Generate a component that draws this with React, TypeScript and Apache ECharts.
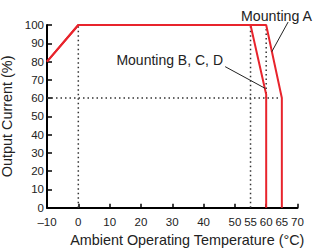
import React, { useEffect, useRef } from "react";
import * as echarts from "echarts";

const xTickLabels = [-10, 0, 10, 20, 30, 40, 50, 55, 60, 65, 70];
const yTicks = [0, 10, 20, 30, 40, 50, 60, 70, 80, 90, 100];
const mountingA: [number, number][] = [[-10, 80], [0, 100], [60, 100], [65, 60], [65, 0]];
const mountingBCD: [number, number][] = [[-10, 80], [0, 100], [55, 100], [60, 62], [60, 0]];
const guide0: [number, number][] = [[0, 0], [0, 100]];
const guide55: [number, number][] = [[55, 0], [55, 100]];
const guide60: [number, number][] = [[60, 60], [60, 100]];
const guideH60: [number, number][] = [[-10, 60], [65, 60]];
const leaderA: [number, number][] = [[67, 101.6], [61.8, 85.4]];
const leaderBCD: [number, number][] = [[46.9, 77.2], [59.7, 65.3]];

const FONT = "'Liberation Sans', Arial, sans-serif";
const RED = "#e8242c";
const INK = "#222";

export default function App() {
  const ref = useRef<HTMLDivElement>(null);
  useEffect(() => {
    if (!ref.current) return;
    const chart = echarts.init(ref.current, null, { renderer: "svg" });
    const dotted = (data: [number, number][]) => ({
      type: "line",
      data,
      symbol: "none",
      silent: true,
      lineStyle: { color: "#333", width: 1.5, type: [1.5, 3] },
    });
    const leader = (data: [number, number][]) => ({
      type: "line",
      data,
      symbol: "none",
      silent: true,
      clip: false,
      lineStyle: { color: INK, width: 1 },
    });
    chart.setOption({
      animation: false,
      grid: { left: 47, right: 21.5, top: 25, bottom: 43.3, outerBoundsMode: "none", containLabel: false },
      xAxis: [
        {
          type: "value",
          min: -10,
          max: 70,
          interval: 5,
          name: "Ambient Operating Temperature (°C)",
          nameLocation: "middle",
          nameGap: 25,
          nameTextStyle: { fontFamily: FONT, fontSize: 14.4, color: INK, padding: [0, 0, 0, 30] },
          axisLine: { onZero: false, lineStyle: { color: "#000", width: 2 } },
          axisTick: { show: false },
          splitLine: { show: false },
          axisLabel: {
            fontFamily: FONT,
            fontSize: 11.5,
            color: INK,
            margin: 8,
            hideOverlap: false,
            customValues: xTickLabels,
            formatter: (v: number) => (v < 0 ? "\u2013" + Math.abs(v) : String(v)),
          },
        },
        {
          type: "value",
          min: -10,
          max: 70,
          interval: 10,
          position: "bottom",
          axisLine: { show: false },
          axisLabel: { show: false },
          splitLine: { show: false },
          axisTick: { show: true, inside: true, length: 4, lineStyle: { color: "#000", width: 1.5 } },
        },
      ],
      yAxis: {
        type: "value",
        min: 0,
        max: 100,
        interval: 10,
        name: "Output Current (%)",
        nameLocation: "middle",
        nameGap: 29,
        nameTextStyle: { fontFamily: FONT, fontSize: 14.4, color: INK },
        axisLine: { show: true, onZero: false, lineStyle: { color: "#000", width: 2 } },
        axisTick: { show: true, inside: true, length: 5, lineStyle: { color: "#000", width: 1.5 } },
        splitLine: { show: false },
        axisLabel: {
          fontFamily: FONT,
          fontSize: 11.5,
          color: INK,
          margin: 3,
          customValues: yTicks,
        },
      },
      series: [
        dotted(guide0),
        dotted(guide55),
        dotted(guide60),
        dotted(guideH60),
        { type: "line", data: mountingBCD, symbol: "none", silent: true, lineStyle: { color: RED, width: 2 } },
        { type: "line", data: mountingA, symbol: "none", silent: true, lineStyle: { color: RED, width: 2 } },
        leader(leaderA),
        leader(leaderBCD),
      ],
      graphic: [
        {
          type: "text",
          x: 241,
          y: 15.5,
          style: { text: "Mounting A", fontFamily: FONT, fontSize: 14.2, fill: INK, verticalAlign: "middle" },
        },
        {
          type: "text",
          x: 223,
          y: 60,
          style: { text: "Mounting B, C, D", fontFamily: FONT, fontSize: 14, fill: INK, align: "right", verticalAlign: "middle" },
        },
      ],
    });
    return () => chart.dispose();
  }, []);
  return (
    <div
      ref={ref}
      style={{ position: "absolute", left: 0, top: 0, width: 319, height: 251, background: "#fff" }}
    />
  );
}
